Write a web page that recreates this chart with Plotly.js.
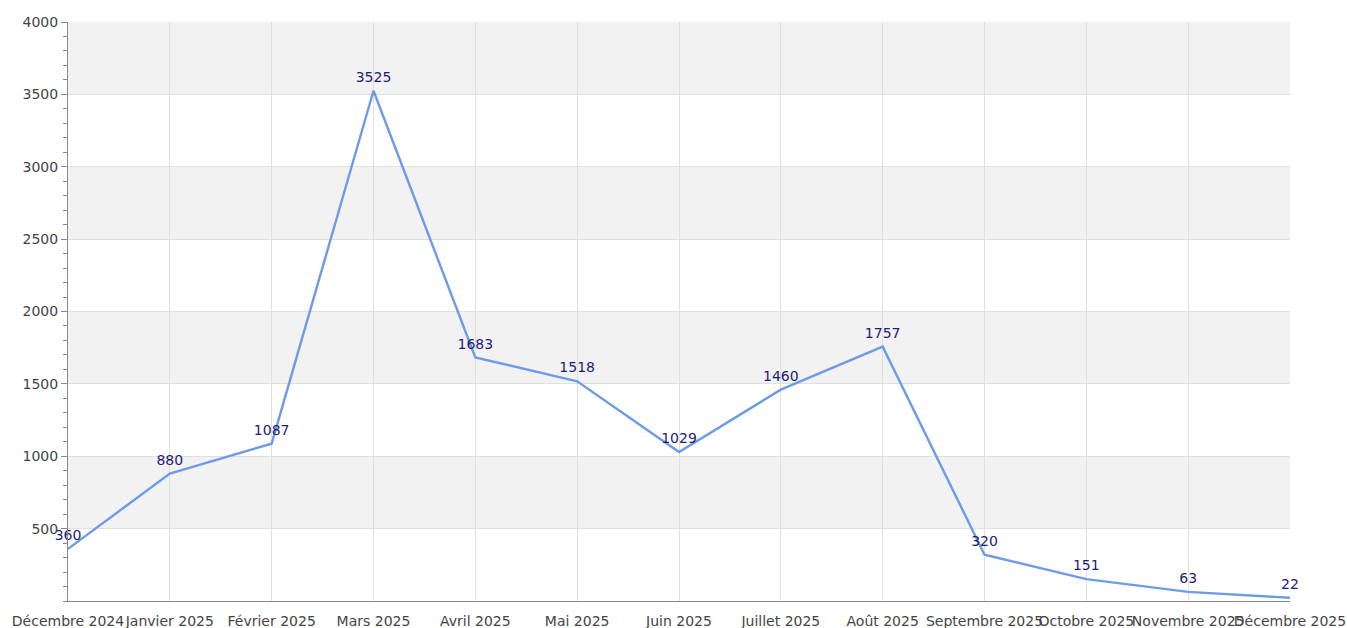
<!DOCTYPE html>
<html>
<head>
<meta charset="utf-8">
<script src="https://cdn.plot.ly/plotly-3.0.1.min.js"></script>
<style>html,body{margin:0;padding:0;background:#fff;}#chart{width:1347px;height:628px;}</style>
</head>
<body>
<div id="chart"></div>
<script>
var months = ["Décembre 2024","Janvier 2025","Février 2025","Mars 2025","Avril 2025","Mai 2025","Juin 2025","Juillet 2025","Août 2025","Septembre 2025","Octobre 2025","Novembre 2025","Décembre 2025"];
var counts = [360, 880, 1087, 3525, 1683, 1518, 1029, 1460, 1757, 320, 151, 63, 22];
var yTickVals = [500, 1000, 1500, 2000, 2500, 3000, 3500, 4000];
var bandStarts = [500, 1500, 2500, 3500];
var bandHeight = 500;

var shapes = bandStarts.map(function (b) {
  return {type: 'rect', xref: 'paper', yref: 'y', x0: 0, x1: 1, y0: b, y1: b + bandHeight,
          fillcolor: '#f2f2f2', line: {width: 0}, layer: 'below'};
});

var trace = {
  x: months.map(function (m, i) { return i; }),
  y: counts,
  text: counts.map(String),
  mode: 'lines+markers+text',
  marker: {size: 7, opacity: 0},
  textposition: 'top center',
  textfont: {family: 'DejaVu Sans', size: 14, color: '#1c1c78'},
  line: {color: '#6d9bea', width: 2.4},
  cliponaxis: false,
  hoverinfo: 'skip'
};

var layout = {
  width: 1347, height: 628,
  margin: {l: 68, r: 57, t: 22, b: 27},
  paper_bgcolor: '#fff', plot_bgcolor: 'rgba(0,0,0,0)',
  showlegend: false,
  font: {family: 'DejaVu Sans', size: 14, color: '#444'},
  shapes: shapes,
  xaxis: {
    range: [0, months.length - 1],
    tickmode: 'array',
    tickvals: months.map(function (m, i) { return i; }),
    ticktext: months,
    tickangle: 0,
    ticklabelstandoff: 7,
    showgrid: true, gridcolor: '#e0e0e0', gridwidth: 1,
    showline: true, linecolor: '#8a8a8a', linewidth: 1,
    ticks: '', zeroline: false,
    tickfont: {family: 'DejaVu Sans', size: 14, color: '#444'},
    fixedrange: true
  },
  yaxis: {
    range: [0, 4000],
    tickmode: 'array',
    tickvals: yTickVals,
    showgrid: true, gridcolor: '#e0e0e0', gridwidth: 1,
    showline: true, linecolor: '#8a8a8a', linewidth: 1,
    ticks: 'outside', ticklen: 6, tickcolor: '#8a8a8a',
    minor: {tickmode: 'linear', tick0: 0, dtick: 100, ticks: 'outside', ticklen: 4, tickcolor: '#8a8a8a', showgrid: false},
    zeroline: false,
    tickfont: {family: 'DejaVu Sans', size: 14, color: '#444'},
    fixedrange: true
  }
};

Plotly.newPlot('chart', [trace], layout, {displayModeBar: false, staticPlot: true});
</script>
</body>
</html>
